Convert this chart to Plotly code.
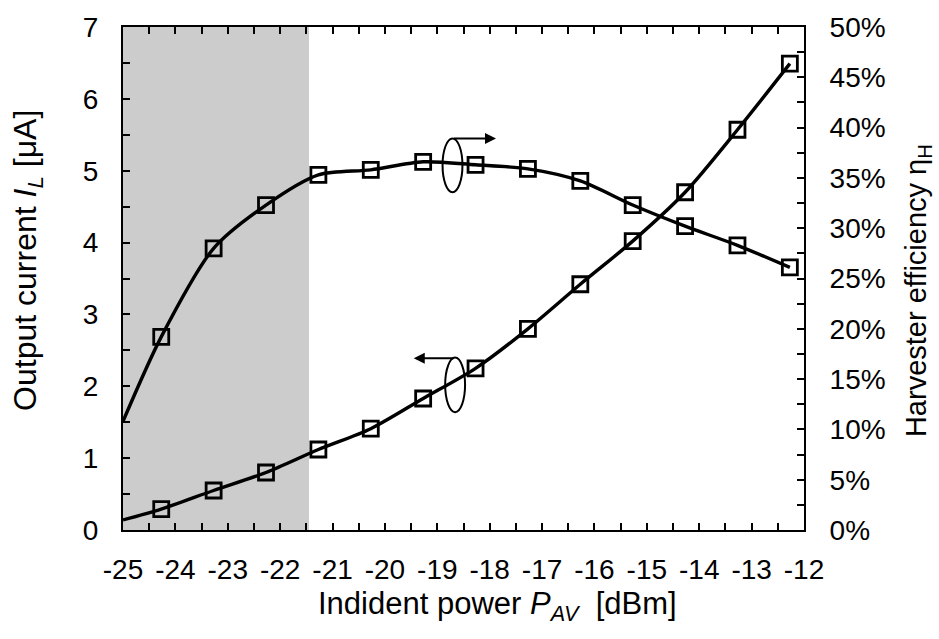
import plotly.graph_objects as go

# Incident power sweep (dBm) where the harvester was measured
power_dbm = [-24.27, -23.27, -22.27, -21.27, -20.27, -19.27, -18.27,
             -17.27, -16.27, -15.27, -14.27, -13.27, -12.27]
# Output current I_L (uA)
current_ua = [0.29, 0.55, 0.80, 1.12, 1.41, 1.83, 2.25, 2.80, 3.42, 4.02, 4.70, 5.57, 6.49]
# Harvester efficiency (%)
efficiency_pct = [19.2, 28.0, 32.3, 35.3, 35.8, 36.6, 36.3, 35.9, 34.7, 32.3, 30.2, 28.3, 26.1]

# Fitted curves extend back to the left edge of the sweep
curve_start_dbm = -25.0
current_at_start = 0.14
efficiency_at_start = 10.8

# Region below the sensitivity limit
shade_from, shade_to = -25.0, -21.45

x_ticks = list(range(-25, -11))
left_ticks = list(range(0, 8))
right_ticks = list(range(0, 55, 5))

FONT = "Arial, Liberation Sans, sans-serif"
BLACK = "#000000"
TICK_SIZE = 28

fig = go.Figure()

# smooth fit lines
fig.add_trace(go.Scatter(
    x=[curve_start_dbm] + power_dbm, y=[current_at_start] + current_ua,
    mode="lines", line=dict(color=BLACK, width=3.4, shape="spline", smoothing=0.8),
    showlegend=False, hoverinfo="skip"))
fig.add_trace(go.Scatter(
    x=[curve_start_dbm] + power_dbm, y=[efficiency_at_start] + efficiency_pct,
    mode="lines", line=dict(color=BLACK, width=3.4, shape="spline", smoothing=0.8),
    yaxis="y2", showlegend=False, hoverinfo="skip"))

# measured points
fig.add_trace(go.Scatter(
    x=power_dbm, y=current_ua, mode="markers", name="I_L",
    marker=dict(symbol="square-open", size=15, color=BLACK, line=dict(width=2.8, color=BLACK)),
    showlegend=False))
fig.add_trace(go.Scatter(
    x=power_dbm, y=efficiency_pct, mode="markers", name="efficiency",
    marker=dict(symbol="square-open", size=15, color=BLACK, line=dict(width=2.8, color=BLACK)),
    yaxis="y2", showlegend=False))

shapes = [
    dict(type="rect", xref="x", yref="paper", x0=shade_from, x1=shade_to, y0=0, y1=1,
         fillcolor="#cccccc", line=dict(width=0), layer="below"),
    # ellipses tagging each curve with the axis it belongs to
    dict(type="circle", xref="x", yref="y", x0=-18.90, x1=-18.52, y0=4.70, y1=5.45,
         line=dict(color=BLACK, width=2)),
    dict(type="circle", xref="x", yref="y", x0=-18.85, x1=-18.47, y0=1.64, y1=2.40,
         line=dict(color=BLACK, width=2)),
]

annotations = [
    dict(x=-17.88, y=5.45, ax=-18.71, ay=5.45, xref="x", yref="y", axref="x", ayref="y",
         text="", showarrow=True, arrowhead=2, arrowsize=1.1, arrowwidth=2, arrowcolor=BLACK),
    dict(x=-19.45, y=2.39, ax=-18.66, ay=2.39, xref="x", yref="y", axref="x", ayref="y",
         text="", showarrow=True, arrowhead=2, arrowsize=1.1, arrowwidth=2, arrowcolor=BLACK),
    # axis titles
    dict(text="Output current <i>I<sub>L</sub></i> [μA]", xref="paper", yref="paper",
         x=0, y=0.535, xshift=-95, textangle=-90, showarrow=False,
         xanchor="center", yanchor="middle", font=dict(size=32, family=FONT, color=BLACK)),
    dict(text="Harvester efficiency η<sub>H</sub>", xref="paper", yref="paper",
         x=1, y=0.475, xshift=114, textangle=-90, showarrow=False,
         xanchor="center", yanchor="middle", font=dict(size=29, family=FONT, color=BLACK)),
    dict(text="Indident power <i>P<sub>AV</sub></i>  [dBm]", xref="paper", yref="paper",
         x=0.5, y=0, xshift=34, yshift=-76, showarrow=False,
         xanchor="center", yanchor="middle", font=dict(size=31, family=FONT, color=BLACK)),
]

fig.update_layout(
    width=939, height=639,
    margin=dict(l=123, r=135, t=22, b=109),
    paper_bgcolor="white", plot_bgcolor="white",
    font=dict(family=FONT, size=TICK_SIZE, color=BLACK),
    shapes=shapes, annotations=annotations,
    xaxis=dict(
        range=[-25, -12], tickvals=x_ticks, ticktext=[str(v) for v in x_ticks],
        ticks="inside", ticklen=7, tickwidth=2, tickcolor=BLACK,
        minor=dict(dtick=0.5, ticks="inside", ticklen=7, tickwidth=2, tickcolor=BLACK),
        showline=True, linecolor=BLACK, linewidth=2, mirror="ticks",
        showgrid=False, zeroline=False, ticklabelstandoff=13,
        tickfont=dict(size=TICK_SIZE, family=FONT, color=BLACK)),
    yaxis=dict(
        range=[0, 7], tickvals=left_ticks, ticktext=[str(v) for v in left_ticks],
        ticks="inside", ticklen=7, tickwidth=2, tickcolor=BLACK,
        minor=dict(dtick=0.5, ticks="inside", ticklen=7, tickwidth=2, tickcolor=BLACK),
        showline=True, linecolor=BLACK, linewidth=2,
        showgrid=False, zeroline=False, ticklabelstandoff=17,
        tickfont=dict(size=TICK_SIZE, family=FONT, color=BLACK)),
    yaxis2=dict(
        range=[0, 50], overlaying="y", side="right",
        tickvals=right_ticks, ticktext=[f"{v}%" for v in right_ticks],
        ticks="inside", ticklen=7, tickwidth=2, tickcolor=BLACK,
        minor=dict(dtick=2.5, ticks="inside", ticklen=7, tickwidth=2, tickcolor=BLACK),
        showline=True, linecolor=BLACK, linewidth=2,
        showgrid=False, zeroline=False, ticklabelstandoff=18,
        tickfont=dict(size=TICK_SIZE, family=FONT, color=BLACK)),
)

fig.write_html("out.html")
